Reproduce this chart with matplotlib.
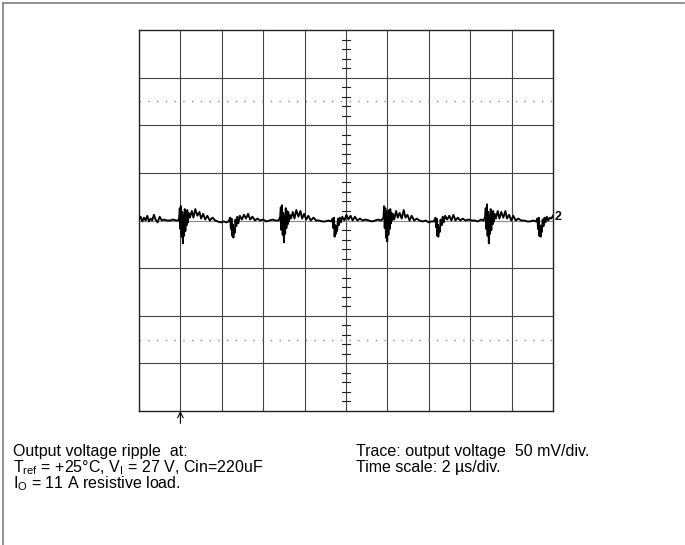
import matplotlib
matplotlib.use("Agg")
import matplotlib.pyplot as plt
from matplotlib.lines import Line2D

plt.rcParams["font.family"] = ["Liberation Sans", "DejaVu Sans"]
plt.rcParams["mathtext.fontset"] = "custom"
plt.rcParams["mathtext.rm"] = "Liberation Sans"
plt.rcParams["mathtext.it"] = "Liberation Sans"

# scope trace: time in us, output ripple in mV
trace_us = [
    0.00, 0.08, 0.16, 0.24, 0.32, 0.40, 0.48, 0.56, 0.64, 0.72, 0.80, 0.90, 1.00, 1.10, 1.20, 1.35, 1.50, 1.65, 1.80, 1.90,
    1.94, 1.97, 2.00, 2.03, 2.06, 2.09, 2.12, 2.15, 2.18, 2.21, 2.24, 2.27, 2.30, 2.33, 2.36, 2.40,
    2.46, 2.55, 2.63, 2.72, 2.82, 2.92, 3.00, 3.10, 3.20, 3.30, 3.42, 3.55, 3.68,
    3.80, 3.95, 4.10, 4.22, 4.33,
    4.40, 4.44, 4.47, 4.50, 4.53, 4.56, 4.59, 4.62, 4.66, 4.70, 4.75, 4.80,
    4.87, 4.97, 5.07, 5.17, 5.27, 5.37, 5.48, 5.60, 5.72, 5.85,
    6.00, 6.15, 6.30, 6.45, 6.60, 6.75,
    6.82, 6.85, 6.88, 6.91, 6.94, 6.97, 7.00, 7.03, 7.06, 7.09, 7.12, 7.15, 7.18, 7.21, 7.24, 7.28,
    7.34, 7.43, 7.51, 7.60, 7.70, 7.80, 7.88, 7.98, 8.08, 8.18, 8.30, 8.43, 8.56,
    8.70, 8.85, 9.00, 9.15, 9.28,
    9.35, 9.39, 9.42, 9.45, 9.48, 9.51, 9.54, 9.57, 9.61, 9.65, 9.70, 9.75,
    9.82, 9.92, 10.02, 10.12, 10.22, 10.32, 10.43, 10.55, 10.67, 10.80,
    10.95, 11.10, 11.25, 11.40, 11.55, 11.70,
    11.81, 11.84, 11.87, 11.90, 11.93, 11.96, 11.99, 12.02, 12.05, 12.08, 12.11, 12.14, 12.17, 12.20, 12.23, 12.27,
    12.33, 12.42, 12.50, 12.59, 12.69, 12.79, 12.87, 12.97, 13.07, 13.17, 13.29, 13.42, 13.55,
    13.70, 13.85, 14.00, 14.12, 14.24,
    14.32, 14.35, 14.38, 14.40, 14.43, 14.46, 14.49, 14.53, 14.57, 14.62, 14.67, 14.72,
    14.79, 14.89, 14.99, 15.09, 15.19, 15.29, 15.40, 15.52, 15.64, 15.77,
    15.92, 16.07, 16.22, 16.37, 16.52, 16.65,
    16.72, 16.75, 16.78, 16.81, 16.84, 16.87, 16.90, 16.93, 16.96, 16.99, 17.02, 17.05, 17.08, 17.11, 17.14, 17.18,
    17.24, 17.33, 17.41, 17.50, 17.60, 17.70, 17.78, 17.88, 17.98, 18.08, 18.20, 18.33, 18.46,
    18.60, 18.75, 18.90, 19.05, 19.18,
    19.24, 19.28, 19.31, 19.34, 19.37, 19.40, 19.43, 19.46, 19.50, 19.54, 19.59, 19.64,
    19.70, 19.77, 19.84, 19.92, 20.00,
]
trace_mv = [
    1, 4, -1, 3, 0, 5, -1, 2, 0, 6, 1, -2, 4, 0, 1, 0, 0, 1, 0, 0,
    3, 13, -9, 15, -17, 9, -24, 5, -16, 12, -11, 9, -5, 11, -2, 8,
    3, 10, 3, 12, 5, 9, 2, 7, 1, 5, 0, 3, 0,
    -1, -2, -1, -2, -1,
    3, -9, 2, -16, -4, -18, -7, -13, 1, -6, 4, -3,
    5, 1, 6, 2, 7, 1, 4, 0, 2, 0,
    1, -1, 0, 1, 0, 0,
    4, 14, -10, 16, -15, 8, -23, 4, -14, 13, -8, 10, -4, 9, -1, 6,
    2, 9, 2, 11, 4, 10, 2, 7, 1, 5, 0, 3, 0,
    0, -1, -1, 0, -1,
    2, -8, 3, -17, -5, -14, -6, -11, 2, -5, 3, -2,
    4, 0, 6, 1, 5, 0, 4, 0, 2, 0,
    1, 0, -1, 0, 1, 0,
    3, 15, -8, 13, -18, 10, -22, 6, -15, 11, -9, 12, -3, 8, 0, 7,
    1, 10, 3, 8, 2, 11, 3, 6, 0, 5, 0, 2, 0,
    -1, 0, -2, -1, -1,
    3, -7, 2, -16, -4, -17, -8, -12, 1, -5, 4, -2,
    5, 1, 5, 0, 6, 0, 3, 0, 2, 0,
    1, 0, 0, -1, 1, 0,
    4, 13, -9, 17, -16, 9, -24, 5, -14, 12, -10, 9, -4, 10, -1, 7,
    2, 10, 2, 9, 3, 10, 2, 6, 0, 5, 0, 2, 0,
    0, -1, -1, 0, -1,
    2, -9, 3, -16, -5, -17, -6, -12, 1, -6, 3, -2,
    4, 0, 3, 2, 5,
]

x_divs = list(range(0, 21, 2))          # 2 us/div
y_divs = list(range(-200, 201, 50))     # 50 mV/div
dotted_levels = [-125, 125]
center_ticks = [v for v in range(-200, 201, 10) if v % 50 != 0]
trigger_us = 2

left_notes = [
    "Output voltage ripple  at:",
    r"T$_{\mathrm{ref}}$ = +25°C, V$_{\mathrm{I}}$ = 27 V, Cin=220uF",
    r"I$_{\mathrm{O}}$ = 11 A resistive load.",
]
right_notes = [
    "Trace: output voltage  50 mV/div.",
    "Time scale: 2 µs/div.",
]

fig = plt.figure(figsize=(6.85, 5.45), dpi=100)
ax = fig.add_axes([139 / 685, 134 / 545, 414 / 685, 381 / 545])
ax.set_xlim(0, 20)
ax.set_ylim(-200, 200)

grid_color = "#444444"
for x in x_divs[1:-1]:
    ax.axvline(x, color=grid_color, lw=0.8, zorder=1)
for y in y_divs[1:-1]:
    ax.axhline(y, color=grid_color if y != 0 else "#8a8a8a", lw=0.8, zorder=1)
for y in dotted_levels:
    ax.axhline(y, color="#8a8a8a", lw=1.0, ls=(0, (1, 5.3)), zorder=1)

# graticule ticks on the centre vertical line
for v in center_ticks:
    ax.plot([9.82, 10.18], [v, v], color="#222222", lw=0.8, zorder=1)

ax.plot(trace_us, trace_mv, color="black", lw=1.35, zorder=3)
ax.text(20.1, 4, "2", fontsize=9, fontweight="bold", va="center", ha="left",
        clip_on=False)

# trigger marker under the graticule
ax.annotate("", xy=(trigger_us, -200), xytext=(trigger_us, -213),
            arrowprops=dict(arrowstyle="->", lw=0.8, color="black",
                            shrinkA=0, shrinkB=0),
            annotation_clip=False)

ax.set_xticks([])
ax.set_yticks([])
for s in ax.spines.values():
    s.set_color("#222222")
    s.set_linewidth(1.0)

for i, line in enumerate(left_notes):
    fig.text(12.7 / 685, 1 - (456 + 16.3 * i) / 545, line, fontsize=11.5,
             va="baseline", ha="left")
for i, line in enumerate(right_notes):
    fig.text(356 / 685, 1 - (456 + 16.3 * i) / 545, line, fontsize=11.5,
             va="baseline", ha="left")

# page frame (top and left edge only)
fig.add_artist(Line2D([3 / 685, 684 / 685], [1 - 3 / 545, 1 - 3 / 545],
                      color="#808080", lw=1.2))
fig.add_artist(Line2D([3 / 685, 3 / 685], [0, 1 - 3 / 545],
                      color="#808080", lw=1.2))

fig.savefig("out.png", dpi=100)
